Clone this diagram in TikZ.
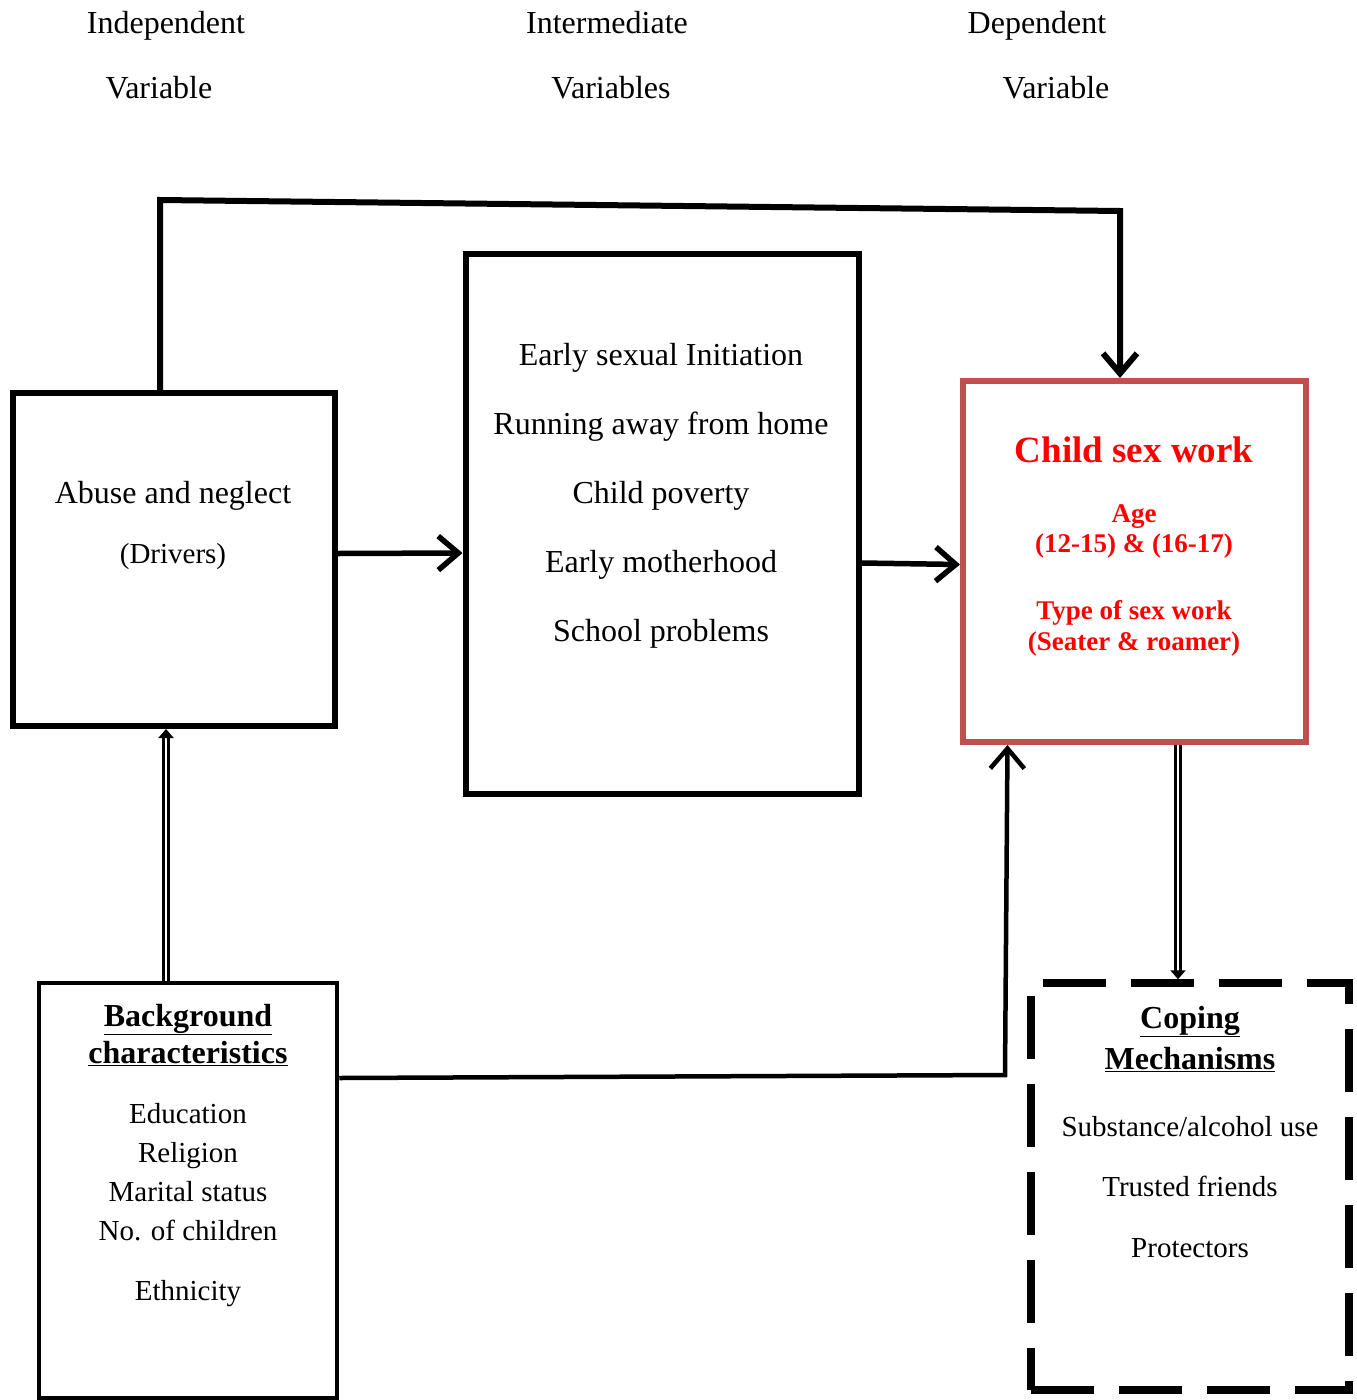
\documentclass[tikz,border=0pt]{standalone}
\usepackage{fontspec}
\setmainfont{Liberation Serif}
\usetikzlibrary{arrows.meta,calc}
\definecolor{boxred}{RGB}{192,80,77}
\begin{document}
\begin{tikzpicture}[x=1pt,y=-1pt,
  txt/.style={anchor=base,inner sep=0pt,font=\fontsize{32}{38}\selectfont},
  itm/.style={anchor=base,inner sep=0pt,font=\fontsize{29}{35}\selectfont},
  hd/.style={anchor=base,inner sep=0pt,font=\fontsize{32}{38}\selectfont\bfseries},
  redbig/.style={anchor=base,inner sep=0pt,text=red,font=\fontsize{37}{44}\selectfont\bfseries},
  redsm/.style={anchor=base,inner sep=0pt,text=red,font=\fontsize{27}{32}\selectfont\bfseries},
  frame/.style={draw,rectangle,line width=6pt,inner sep=0pt},
  conn/.style={draw,line width=5.5pt,-{Straight Barb[length=20pt,width=34pt]}},
  dbl/.style={draw,double,double distance=2.5pt,line width=2.5pt,-{Triangle[length=9pt,width=15pt]}}
]
\useasboundingbox (0,0) rectangle (1357,1400);
% header texts
\node[txt] (h1a) at (166,33) {Independent};
\node[txt] (h1b) at (159,98) {Variable};
\node[txt] (h2a) at (607,33) {Intermediate};
\node[txt] (h2b) at (611,98) {Variables};
\node[txt] (h3a) at (1037,33) {Dependent};
\node[txt] (h3b) at (1056,98) {Variable};
% boxes
\node[frame,minimum width=322pt,minimum height=333pt] (abuse) at (174,559.5) {};
\node[frame,minimum width=393pt,minimum height=540pt] (inter) at (662,524) {};
\node[frame,draw=boxred,minimum width=343pt,minimum height=361pt] (child) at (1134.5,561.5) {};
\node[frame,line width=4.5pt,minimum width=298pt,minimum height=415pt] (bg) at (188,1190.5) {};
\node[frame,line width=7.5pt,dash pattern=on 63pt off 25pt,minimum width=318pt,minimum height=407pt] (cope) at (1190,1186.5) {};
% abuse texts
\node[txt] (ab1) at (173,503) {Abuse and neglect};
\node[itm] (ab2) at (173,563) {(Drivers)};
% intermediate texts
\node[txt] (in1) at (661,365) {Early sexual Initiation};
\node[txt] (in2) at (661,434) {Running away from home};
\node[txt] (in3) at (661,503) {Child poverty};
\node[txt] (in4) at (661,572) {Early motherhood};
\node[txt] (in5) at (661,641) {School problems};
% child sex work texts
\node[redbig] (cs1) at (1134,462) {Child sex work};
\node[redsm] (cs2) at (1134,522) {Age};
\node[redsm] (cs3) at (1134,552) {(12-15) \& (16-17)};
\node[redsm] (cs4) at (1134,619) {Type of sex work};
\node[redsm] (cs5) at (1134,650) {(Seater \& roamer)};
% background texts
\node[hd] (bg1) at (188,1026) {\underline{Background}};
\node[hd] (bg2) at (188,1063) {\underline{characteristics}};
\node[itm] (bg3) at (188,1123) {Education};
\node[itm] (bg4) at (188,1162) {Religion};
\node[itm] (bg5) at (188,1201) {Marital status};
\node[itm] (bg6) at (188,1240) {No. of children};
\node[itm] (bg7) at (188,1300) {Ethnicity};
% coping texts
\node[hd] (cp1) at (1190,1028) {\underline{Coping}};
\node[hd] (cp2) at (1190,1069) {\underline{Mechanisms}};
\node[itm] (cp3) at (1190,1136) {Substance/alcohol use};
\node[itm] (cp4) at (1190,1196) {Trusted friends};
\node[itm] (cp5) at (1190,1257) {Protectors};
% connectors
\coordinate (t1) at (160,200);
\coordinate (t2) at (1120,211);
\coordinate (b1) at (1005,1075);
\draw[conn,line width=6pt] ($(abuse.north)+(-14,0)$) -- (t1) -- (t2) -- (t2 |- child.north);
\draw[conn] ($(abuse.east)+(0,-6)$) -- ($(inter.west)+(0,29)$);
\draw[conn] ($(inter.east)+(0,39)$) -- ($(child.west)+(0,3)$);
\draw[conn,line width=4.5pt] ($(bg.east)+(0,-112.5)$) -- (b1) -- ($(child.south)+(-127,0)$);
\draw[dbl] ($(bg.north)+(-22,0)$) -- ($(abuse.south)+(-8,0)$);
\draw[dbl] ($(child.south)+(43.5,0)$) -- ($(cope.north)+(-12,0)$);
\end{tikzpicture}
\end{document}
